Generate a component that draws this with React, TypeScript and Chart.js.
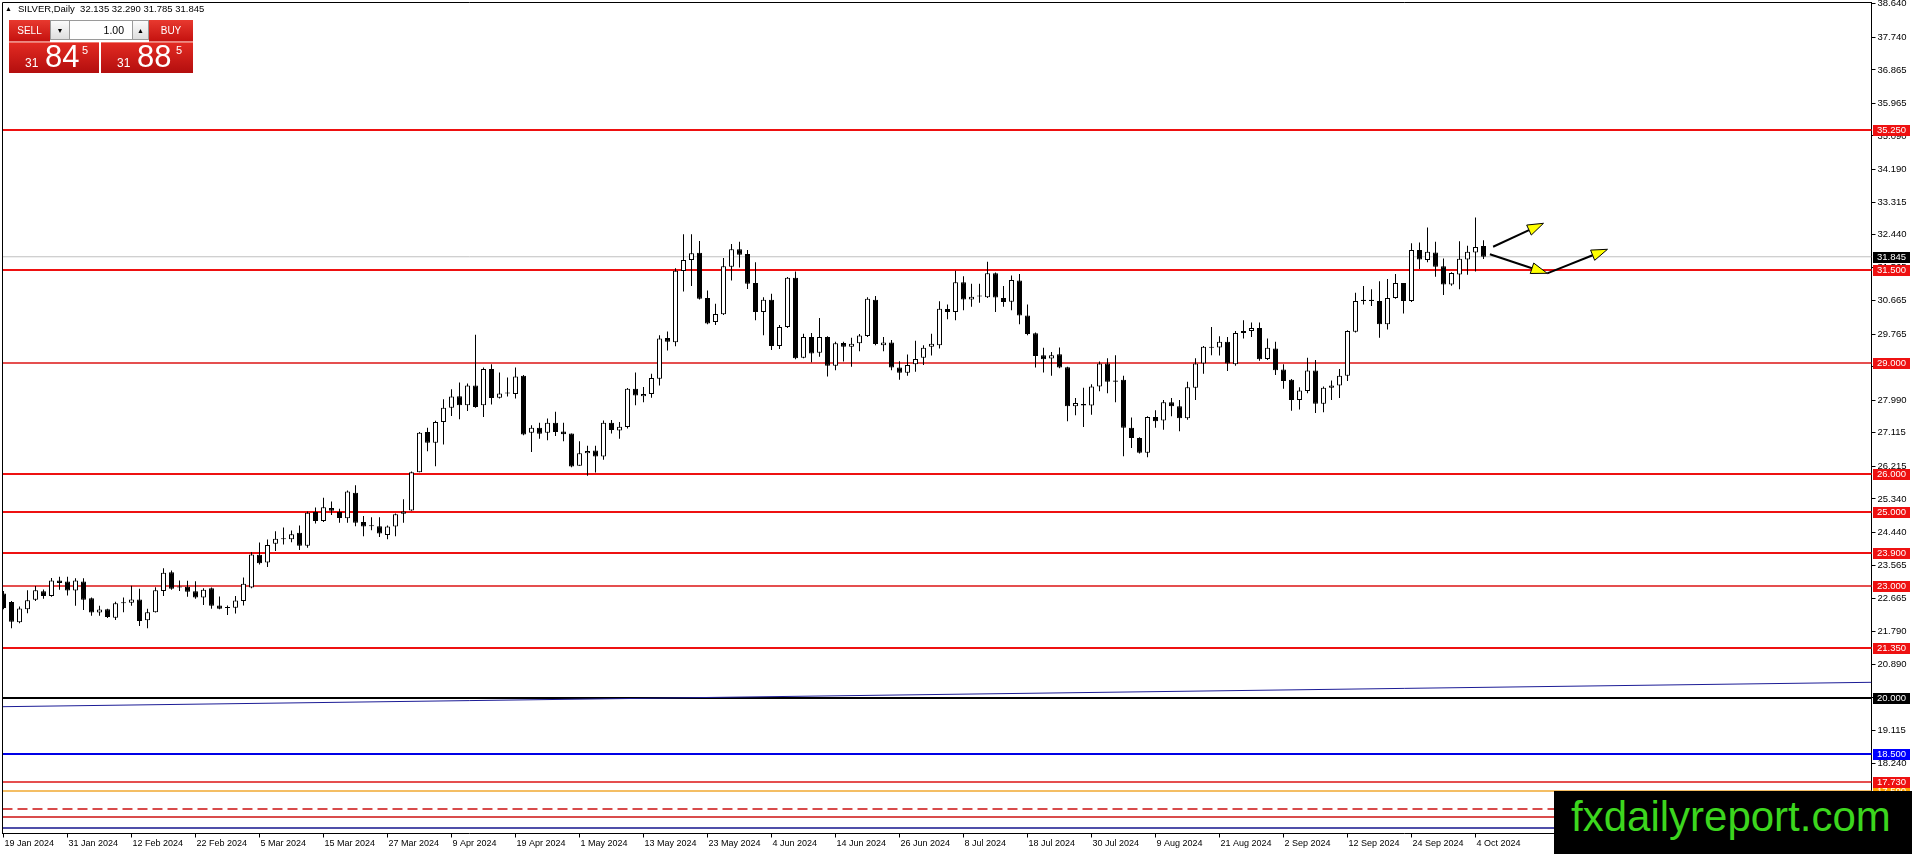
import React, { useEffect, useRef } from 'react';
import { Chart, registerables } from 'chart.js';

Chart.register(...registerables);

// ---- Candle data (SILVER daily, bar 0 = 19 Jan 2024) ----
const OPEN = [
  22.80, 22.57, 22.03, 22.38, 22.63, 22.86, 22.73, 23.15, 23.12, 22.88,
  23.12, 22.67, 22.29, 22.38, 22.15, 22.56, 22.55, 22.64, 22.08, 22.30,
  22.87, 23.37, 22.98, 22.98, 22.86, 22.69, 22.94, 22.48, 22.44, 22.42,
  22.60, 22.96, 23.84, 23.63, 24.14, 24.26, 24.26, 24.43, 24.08, 24.99,
  24.75, 25.10, 24.99, 24.82, 25.51, 24.72, 24.63, 24.61, 24.37, 24.60,
  24.94, 25.03, 26.06, 27.14, 26.85, 27.41, 27.79, 28.10, 27.86, 28.39,
  27.86, 28.83, 28.06, 28.20, 28.16, 28.65, 27.12, 27.25, 27.12, 27.39,
  27.15, 27.10, 26.23, 26.57, 26.64, 26.48, 27.39, 27.18, 27.27, 28.30,
  28.10, 28.16, 28.57, 29.66, 29.55, 31.46, 31.76, 31.95, 30.74, 30.09,
  30.30, 31.58, 32.05, 31.92, 31.14, 30.36, 30.69, 29.45, 29.96, 31.28,
  29.13, 29.69, 29.27, 29.69, 28.92, 29.53, 29.43, 29.52, 29.72, 30.69,
  29.47, 29.54, 28.87, 28.73, 28.96, 29.13, 29.43, 29.47, 30.44, 30.36,
  31.16, 30.70, 30.80, 30.76, 31.40, 30.74, 30.64, 31.21, 30.27, 29.79,
  29.20, 29.11, 29.23, 28.88, 27.83, 27.89, 27.85, 28.36, 28.98, 28.52,
  28.54, 27.25, 26.98, 26.58, 27.54, 27.45, 27.94, 27.83, 27.51, 28.33,
  28.98, 29.43, 29.41, 29.56, 28.96, 29.80, 29.85, 29.93, 29.10, 29.38,
  28.82, 28.54, 28.00, 28.24, 28.79, 27.90, 28.33, 28.39, 28.65, 29.83,
  30.66, 30.69, 30.66, 30.03, 30.74, 31.14, 30.66, 32.03, 31.76, 31.96,
  31.59, 31.10, 31.37, 31.77, 31.96, 32.135,
];
const HIGH = [
  22.87, 22.60, 22.45, 22.89, 23.00, 22.91, 23.22, 23.25, 23.25, 23.21,
  23.21, 22.69, 22.47, 22.39, 22.58, 22.69, 23.01, 22.93, 22.39, 22.97,
  23.48, 23.42, 23.15, 23.14, 23.13, 22.94, 22.96, 22.72, 22.48, 22.73,
  23.23, 23.91, 24.17, 24.25, 24.47, 24.57, 24.49, 24.63, 25.00, 25.11,
  25.37, 25.27, 25.08, 25.57, 25.71, 24.88, 24.85, 24.85, 24.63, 24.95,
  25.33, 26.08, 27.14, 27.25, 27.44, 28.02, 28.29, 28.47, 28.44, 29.75,
  28.87, 28.96, 28.74, 28.60, 28.87, 28.67, 27.32, 27.39, 27.50, 27.68,
  27.39, 27.10, 26.89, 26.77, 26.77, 27.45, 27.46, 27.41, 28.32, 28.74,
  28.35, 28.70, 29.74, 29.84, 31.54, 32.45, 32.45, 32.27, 30.94, 30.58,
  31.81, 32.19, 32.25, 32.03, 31.70, 30.76, 30.85, 30.01, 31.30, 31.45,
  29.78, 29.80, 30.20, 29.71, 29.56, 29.56, 29.67, 29.77, 30.76, 30.79,
  29.69, 29.61, 29.04, 29.22, 29.59, 29.47, 29.78, 30.65, 30.56, 31.47,
  31.32, 31.12, 31.12, 31.71, 31.42, 31.06, 31.34, 31.38, 30.56, 29.81,
  29.40, 29.29, 29.41, 28.89, 28.05, 28.33, 28.42, 29.03, 29.12, 29.20,
  28.65, 27.53, 27.00, 27.56, 27.72, 28.00, 28.05, 28.00, 28.49, 29.12,
  29.45, 29.96, 29.71, 29.69, 29.85, 30.14, 30.08, 30.08, 29.65, 29.56,
  28.96, 28.56, 28.34, 29.13, 29.07, 28.36, 28.52, 28.83, 29.87, 30.88,
  31.06, 30.97, 31.19, 31.25, 31.38, 31.14, 32.21, 32.23, 32.63, 32.25,
  31.80, 31.43, 32.26, 32.14, 32.90, 32.290,
];
const LOW = [
  22.38, 21.87, 22.00, 22.27, 22.60, 22.66, 22.71, 22.90, 22.75, 22.47,
  22.36, 22.20, 22.20, 22.14, 22.09, 22.30, 22.47, 21.93, 21.87, 22.29,
  22.73, 22.90, 22.87, 22.71, 22.66, 22.49, 22.39, 22.38, 22.22, 22.26,
  22.48, 22.94, 23.58, 23.51, 23.94, 24.12, 24.18, 23.97, 24.03, 24.68,
  24.72, 24.91, 24.70, 24.70, 24.61, 24.34, 24.50, 24.32, 24.26, 24.34,
  24.70, 25.02, 26.06, 26.62, 26.22, 26.80, 27.57, 27.48, 27.70, 27.79,
  27.54, 27.88, 28.04, 28.09, 28.04, 27.05, 26.60, 26.96, 26.92, 27.03,
  26.89, 26.19, 26.23, 25.96, 26.05, 26.39, 27.10, 26.96, 27.23, 27.86,
  27.94, 28.06, 28.39, 29.33, 29.44, 30.91, 31.06, 30.70, 30.03, 30.01,
  30.28, 31.21, 31.56, 30.98, 30.14, 29.74, 29.34, 29.37, 29.93, 29.09,
  29.12, 29.01, 29.16, 28.63, 28.80, 29.03, 28.89, 29.31, 29.69, 29.47,
  29.31, 28.80, 28.54, 28.65, 28.76, 28.94, 29.19, 29.38, 30.17, 30.14,
  30.41, 30.50, 30.61, 30.74, 30.36, 30.50, 30.41, 30.03, 29.74, 28.87,
  28.74, 28.65, 28.85, 27.43, 27.59, 27.27, 27.60, 28.23, 28.18, 27.94,
  26.49, 26.71, 26.56, 26.46, 27.25, 27.20, 27.56, 27.16, 27.47, 28.00,
  28.70, 29.20, 29.19, 28.78, 28.92, 29.65, 29.69, 29.05, 29.07, 28.67,
  28.30, 27.71, 27.74, 28.18, 27.65, 27.67, 28.00, 28.05, 28.51, 29.81,
  30.56, 30.52, 29.67, 29.89, 30.72, 30.32, 30.63, 31.52, 31.70, 31.31,
  30.82, 31.07, 30.97, 31.36, 31.45, 31.785,
];
const CLOSE = [
  22.41, 22.04, 22.40, 22.62, 22.89, 22.73, 23.15, 23.08, 22.88, 23.15,
  22.63, 22.29, 22.37, 22.17, 22.54, 22.54, 22.64, 22.06, 22.30, 22.89,
  23.36, 22.93, 22.96, 22.85, 22.69, 22.90, 22.47, 22.39, 22.41, 22.61,
  23.06, 23.85, 23.61, 24.10, 24.27, 24.27, 24.39, 24.08, 24.97, 24.75,
  25.12, 25.02, 24.83, 25.54, 24.70, 24.60, 24.61, 24.41, 24.60, 24.93,
  25.00, 26.06, 27.12, 26.85, 27.41, 27.79, 28.09, 27.86, 28.39, 27.81,
  28.83, 28.05, 28.17, 28.17, 28.63, 27.07, 27.25, 27.09, 27.39, 27.14,
  27.08, 26.21, 26.57, 26.63, 26.48, 27.39, 27.19, 27.28, 28.30, 28.12,
  28.16, 28.59, 29.65, 29.56, 31.47, 31.76, 31.94, 30.72, 30.05, 30.31,
  31.59, 32.05, 31.90, 31.12, 30.36, 30.69, 29.45, 29.96, 31.28, 29.12,
  29.69, 29.25, 29.69, 28.92, 29.52, 29.43, 29.51, 29.73, 30.72, 29.50,
  29.54, 28.87, 28.73, 28.94, 29.10, 29.40, 29.51, 30.45, 30.36, 31.16,
  30.70, 30.77, 30.78, 31.40, 30.75, 30.63, 31.22, 30.27, 29.77, 29.18,
  29.09, 29.20, 28.87, 27.83, 27.92, 27.85, 28.36, 28.98, 28.49, 28.49,
  27.25, 26.98, 26.58, 27.54, 27.43, 27.94, 27.83, 27.51, 28.34, 28.98,
  29.43, 29.40, 29.56, 28.98, 29.80, 29.85, 29.93, 29.09, 29.40, 28.80,
  28.51, 28.00, 28.25, 28.79, 27.90, 28.33, 28.39, 28.65, 29.85, 30.66,
  30.69, 30.66, 30.03, 30.74, 31.14, 30.66, 32.03, 31.77, 31.98, 31.58,
  31.10, 31.41, 31.79, 31.98, 32.11, 31.845,
];

// ---- Axes ----
const X_TICK_INDEX = [0, 8, 16, 24, 32, 40, 48, 56, 64, 72, 80, 88, 96, 104, 112, 120, 128, 136, 144, 152, 160, 168, 176, 184];
const X_TICK_LABELS = [
  '19 Jan 2024', '31 Jan 2024', '12 Feb 2024', '22 Feb 2024', '5 Mar 2024', '15 Mar 2024',
  '27 Mar 2024', '9 Apr 2024', '19 Apr 2024', '1 May 2024', '13 May 2024', '23 May 2024',
  '4 Jun 2024', '14 Jun 2024', '26 Jun 2024', '8 Jul 2024', '18 Jul 2024', '30 Jul 2024',
  '9 Aug 2024', '21 Aug 2024', '2 Sep 2024', '12 Sep 2024', '24 Sep 2024', '4 Oct 2024',
];
const Y_TICKS = [
  38.64, 37.74, 36.865, 35.965, 35.09, 34.19, 33.315, 32.44, 31.565, 30.665, 29.765, 28.89,
  27.99, 27.115, 26.215, 25.34, 24.44, 23.565, 22.665, 21.79, 20.89, 20.015, 19.115, 18.24,
  17.365, 16.465,
];
const X_MIN = -0.125;
const X_MAX = 233.5;
const Y_MIN = 16.354;
const Y_MAX = 38.675;

// ---- Horizontal levels ----
const LEVELS = [35.25, 31.5, 29.0, 26.0, 25.0, 23.9, 23.0, 21.35, 20.0, 18.5, 17.73, 17.5, 17.0, 16.8, 16.5];
const LEVEL_COLORS = ['#ee1111', '#ee1111', '#dd1414', '#ee1111', '#ee1111', '#ee1111', '#dd1414', '#ee1111', '#000000', '#0000e6', '#dd1414', '#f0a830', '#cc1111', '#cc1111', '#14148c'];
const LEVEL_WIDTHS = [2, 2, 1.5, 2, 2, 2, 1.5, 2, 2, 2, 1.5, 1.5, 1.5, 1.5, 1.5];
const LEVEL_DASHED = [false, false, false, false, false, false, false, false, false, false, false, false, true, false, false];
const LEVEL_BOX = ['#ee1111', '#ee1111', '#ee1111', '#ee1111', '#ee1111', '#ee1111', '#ee1111', '#ee1111', '#000000', '#0000ff', '#ee1111', '#ffa500', '#ee1111', '#ee1111', '#0000ff'];
const BID = 31.845;
const ASK = 31.885;

// ---- Trend line & arrows (bar index, price) ----
const TREND_X = [-0.125, 233.5];
const TREND_Y = [19.76, 20.415];
const ARROW_A_X = [186.2, 192.5];
const ARROW_A_Y = [32.115, 32.744];
const ARROW_B_X = [185.8, 192.96, 200.5];
const ARROW_B_Y = [31.911, 31.401, 32.046];

const FONT = '"Liberation Sans", Arial, sans-serif';

function drawArrow(ctx: CanvasRenderingContext2D, x0: number, y0: number, x1: number, y1: number) {
  const dx = x1 - x0;
  const dy = y1 - y0;
  const len = Math.hypot(dx, dy) || 1;
  const ux = dx / len;
  const uy = dy / len;
  const L = 16;
  const W = 5.5;
  const bx = x1 - ux * L;
  const by = y1 - uy * L;
  ctx.save();
  ctx.strokeStyle = '#000';
  ctx.lineWidth = 2;
  ctx.beginPath();
  ctx.moveTo(x0, y0);
  ctx.lineTo(bx, by);
  ctx.stroke();
  ctx.beginPath();
  ctx.moveTo(x1, y1);
  ctx.lineTo(bx - uy * W, by + ux * W);
  ctx.lineTo(bx + uy * W, by - ux * W);
  ctx.closePath();
  ctx.fillStyle = '#ffff00';
  ctx.fill();
  ctx.lineWidth = 1;
  ctx.stroke();
  ctx.restore();
}

const overlayPlugin = {
  id: 'mtOverlay',
  beforeDatasetsDraw(chart: any) {
    // horizontal level lines (behind the candles), positioned by the y scale
    const ctx = chart.ctx as CanvasRenderingContext2D;
    const { left, right } = chart.chartArea;
    const ys = chart.scales.y;
    ctx.save();
    LEVELS.forEach((v, k) => {
      const w = LEVEL_WIDTHS[k];
      const y = Math.round(ys.getPixelForValue(v));
      ctx.strokeStyle = LEVEL_COLORS[k];
      ctx.lineWidth = w;
      ctx.setLineDash(LEVEL_DASHED[k] ? [10, 5] : []);
      ctx.beginPath();
      ctx.moveTo(left, y);
      ctx.lineTo(right, y);
      ctx.stroke();
    });
    ctx.restore();
  },
  afterDatasetsDraw(chart: any) {
    const ctx = chart.ctx as CanvasRenderingContext2D;
    const xs = chart.scales.x;
    const ys = chart.scales.y;
    const drawPath = (X: number[], Y: number[]) => {
      for (let k = 0; k < X.length - 1; k++) {
        drawArrow(
          ctx,
          xs.getPixelForValue(X[k]), ys.getPixelForValue(Y[k]),
          xs.getPixelForValue(X[k + 1]), ys.getPixelForValue(Y[k + 1]),
        );
      }
    };
    drawPath(ARROW_A_X, ARROW_A_Y);
    drawPath(ARROW_B_X, ARROW_B_Y);
  },
  afterDraw(chart: any) {
    const ctx = chart.ctx as CanvasRenderingContext2D;
    const { left, top, right, bottom } = chart.chartArea;
    const ys = chart.scales.y;
    ctx.save();
    // frame (top & left)
    ctx.strokeStyle = '#000';
    ctx.lineWidth = 1;
    ctx.beginPath();
    ctx.moveTo(left, bottom);
    ctx.lineTo(left, top);
    ctx.lineTo(right, top);
    ctx.stroke();
    // price boxes on the axis
    ctx.font = `9.5px ${FONT}`;
    ctx.textBaseline = 'middle';
    ctx.textAlign = 'left';
    const box = (v: number, bg: string) => {
      const y = Math.round(ys.getPixelForValue(v));
      ctx.fillStyle = bg;
      ctx.fillRect(right + 1.5, y - 5, 37, 11);
      ctx.fillStyle = '#ffffff';
      ctx.fillText(v.toFixed(3), right + 5.5, y + 0.5);
    };
    for (let k = LEVELS.length - 1; k >= 0; k--) box(LEVELS[k], LEVEL_BOX[k]);
    box(BID, '#000000');
    ctx.restore();
  },
};

export default function App() {
  const ref = useRef<HTMLCanvasElement>(null);

  useEffect(() => {
    document.body.style.margin = '0';
    document.body.style.overflow = 'hidden';
    const canvas = ref.current;
    if (!canvas) return;

    const bodies = OPEN.map((o, i) => ({ x: i, y: [o, CLOSE[i]] }));
    const wicks = OPEN.map((_, i) => ({ x: i, y: [LOW[i], HIGH[i]] }));
    const bodyColors = OPEN.map((o, i) => (CLOSE[i] >= o ? '#ffffff' : '#000000'));

    const chart = new Chart(canvas, {
      type: 'bar',
      data: {
        datasets: [
          {
            type: 'bar',
            data: bodies as any,
            backgroundColor: bodyColors,
            borderColor: '#000000',
            borderWidth: 1,
            borderSkipped: false,
            barThickness: 5,
            grouped: false,
            minBarLength: 1,
            inflateAmount: 0,
            order: 0,
          } as any,
          {
            type: 'bar',
            data: wicks as any,
            backgroundColor: '#000000',
            borderWidth: 0,
            barThickness: 1,
            grouped: false,
            inflateAmount: 0,
            order: 1,
          } as any,
          {
            type: 'line',
            data: [{ x: X_MIN, y: BID }, { x: X_MAX, y: BID }],
            borderColor: '#c0c0c0',
            borderWidth: 1,
            pointRadius: 0,
            fill: false,
            order: 2,
          } as any,
          {
            type: 'line',
            data: [{ x: TREND_X[0], y: TREND_Y[0] }, { x: TREND_X[1], y: TREND_Y[1] }],
            borderColor: '#1c1c96',
            borderWidth: 1,
            pointRadius: 0,
            fill: false,
            order: 2,
          } as any,
        ],
      },
      options: {
        animation: false,
        responsive: false,
        events: [],
        layout: { padding: { left: 2.5, top: 2.5, right: 0, bottom: 0 } },
        plugins: { legend: { display: false }, tooltip: { enabled: false } },
        scales: {
          x: {
            type: 'linear',
            position: 'bottom',
            min: X_MIN,
            max: X_MAX,
            offset: false,
            grid: { drawOnChartArea: false, drawTicks: true, tickLength: 4, color: '#000000', offset: false },
            border: { display: true, color: '#000000', width: 1 },
            afterBuildTicks: (s: any) => {
              s.ticks = X_TICK_INDEX.map((v) => ({ value: v }));
            },
            afterFit: (s: any) => {
              s.height = 20.5;
              s.paddingLeft = 0;
              s.paddingRight = 0;
              s.paddingTop = 0;
              s.paddingBottom = 0;
            },
            ticks: {
              autoSkip: false,
              maxRotation: 0,
              minRotation: 0,
              align: 'start',
              labelOffset: 1,
              padding: 1,
              color: '#000000',
              font: { family: FONT, size: 9 },
              callback: (v: any) => {
                const k = X_TICK_INDEX.indexOf(Number(v));
                return k >= 0 ? X_TICK_LABELS[k] : '';
              },
            },
          } as any,
          y: {
            type: 'linear',
            position: 'right',
            min: Y_MIN,
            max: Y_MAX,
            grid: { drawOnChartArea: false, drawTicks: true, tickLength: 4, color: '#000000' },
            border: { display: true, color: '#000000', width: 1 },
            afterBuildTicks: (s: any) => {
              s.ticks = Y_TICKS.map((v) => ({ value: v }));
            },
            afterFit: (s: any) => {
              s.width = 40.5;
              s.paddingLeft = 0;
              s.paddingRight = 0;
              s.paddingTop = 0;
              s.paddingBottom = 0;
            },
            ticks: {
              autoSkip: false,
              padding: 2,
              color: '#000000',
              font: { family: FONT, size: 9.5 },
              callback: (v: any) => Number(v).toFixed(3),
            },
          } as any,
        },
      },
      plugins: [overlayPlugin],
    } as any);

    return () => chart.destroy();
  }, []);

  const last = OPEN.length - 1;
  const quote = `${OPEN[last].toFixed(3)} ${HIGH[last].toFixed(3)} ${LOW[last].toFixed(3)} ${CLOSE[last].toFixed(3)}`;
  const bidStr = BID.toFixed(3);
  const askStr = ASK.toFixed(3);

  const redGrad = 'linear-gradient(#e8392f, #c5120f)';
  const bigGrad = 'linear-gradient(#e22a22, #b30e0e)';
  const spin: React.CSSProperties = {
    position: 'absolute', top: 20, height: 20, background: 'linear-gradient(#fbfbfb, #dedede)',
    border: '1px solid #9a9a9a', boxSizing: 'border-box', display: 'flex', alignItems: 'center',
    justifyContent: 'center', fontSize: 7, color: '#000',
  };
  const priceBox = (left: number, width: number, big: string, small: string, tail: string): React.ReactNode => (
    <div style={{ position: 'absolute', left, top: 42, width, height: 31, background: bigGrad, borderTop: '1px solid #f07a70', boxSizing: 'border-box', color: '#fff' }}>
      <span style={{ position: 'absolute', left: 16, top: 14, fontSize: 12, lineHeight: '12px' }}>{small}</span>
      <span style={{ position: 'absolute', left: 36, top: -2, fontSize: 31, lineHeight: '31px' }}>{big}</span>
      <span style={{ position: 'absolute', left: width - 17, top: 2, fontSize: 11, lineHeight: '11px' }}>{tail}</span>
    </div>
  );

  return (
    <div style={{ position: 'relative', width: 1912, height: 854, background: '#ffffff', fontFamily: FONT, overflow: 'hidden' }}>
      <canvas ref={ref} width={1912} height={854} style={{ display: 'block' }} />
      {/* header */}
      <div style={{ position: 'absolute', left: 5, top: 4, fontSize: 7, lineHeight: '10px', color: '#000' }}>▲</div>
      <div style={{ position: 'absolute', left: 18, top: 3, fontSize: 9.5, lineHeight: '12px', color: '#000', whiteSpace: 'pre' }}>
        {`SILVER,Daily  ${quote}`}
      </div>
      {/* one-click trading panel */}
      <div style={{ position: 'absolute', left: 9, top: 20, width: 41, height: 22, background: redGrad, color: '#fff', fontSize: 10, lineHeight: '21px', textAlign: 'center', borderBottom: '1px solid #e98a84', boxSizing: 'border-box' }}>SELL</div>
      <div style={{ ...spin, left: 50, width: 20 }}>▼</div>
      <div style={{ position: 'absolute', left: 70, top: 20, width: 62, height: 20, background: '#fff', borderTop: '1px solid #9a9a9a', borderBottom: '1px solid #9a9a9a', boxSizing: 'border-box', fontSize: 10.5, lineHeight: '18px', textAlign: 'right', paddingRight: 8, color: '#000' }}>1.00</div>
      <div style={{ ...spin, left: 132, width: 17 }}>▲</div>
      <div style={{ position: 'absolute', left: 149, top: 20, width: 44, height: 22, background: redGrad, color: '#fff', fontSize: 10, lineHeight: '21px', textAlign: 'center', borderBottom: '1px solid #e98a84', boxSizing: 'border-box' }}>BUY</div>
      {priceBox(9, 90, bidStr.slice(3, 5), bidStr.slice(0, 2), bidStr.slice(5))}
      {priceBox(101, 92, askStr.slice(3, 5), askStr.slice(0, 2), askStr.slice(5))}
      {/* watermark */}
      <div style={{ position: 'absolute', left: 1554, top: 791, width: 358, height: 63, background: '#000000' }} />
      <div style={{ position: 'absolute', left: 1571, top: 793, fontSize: 42, lineHeight: '48px', color: '#3cd61e', whiteSpace: 'nowrap' }}>fxdailyreport.com</div>
    </div>
  );
}
